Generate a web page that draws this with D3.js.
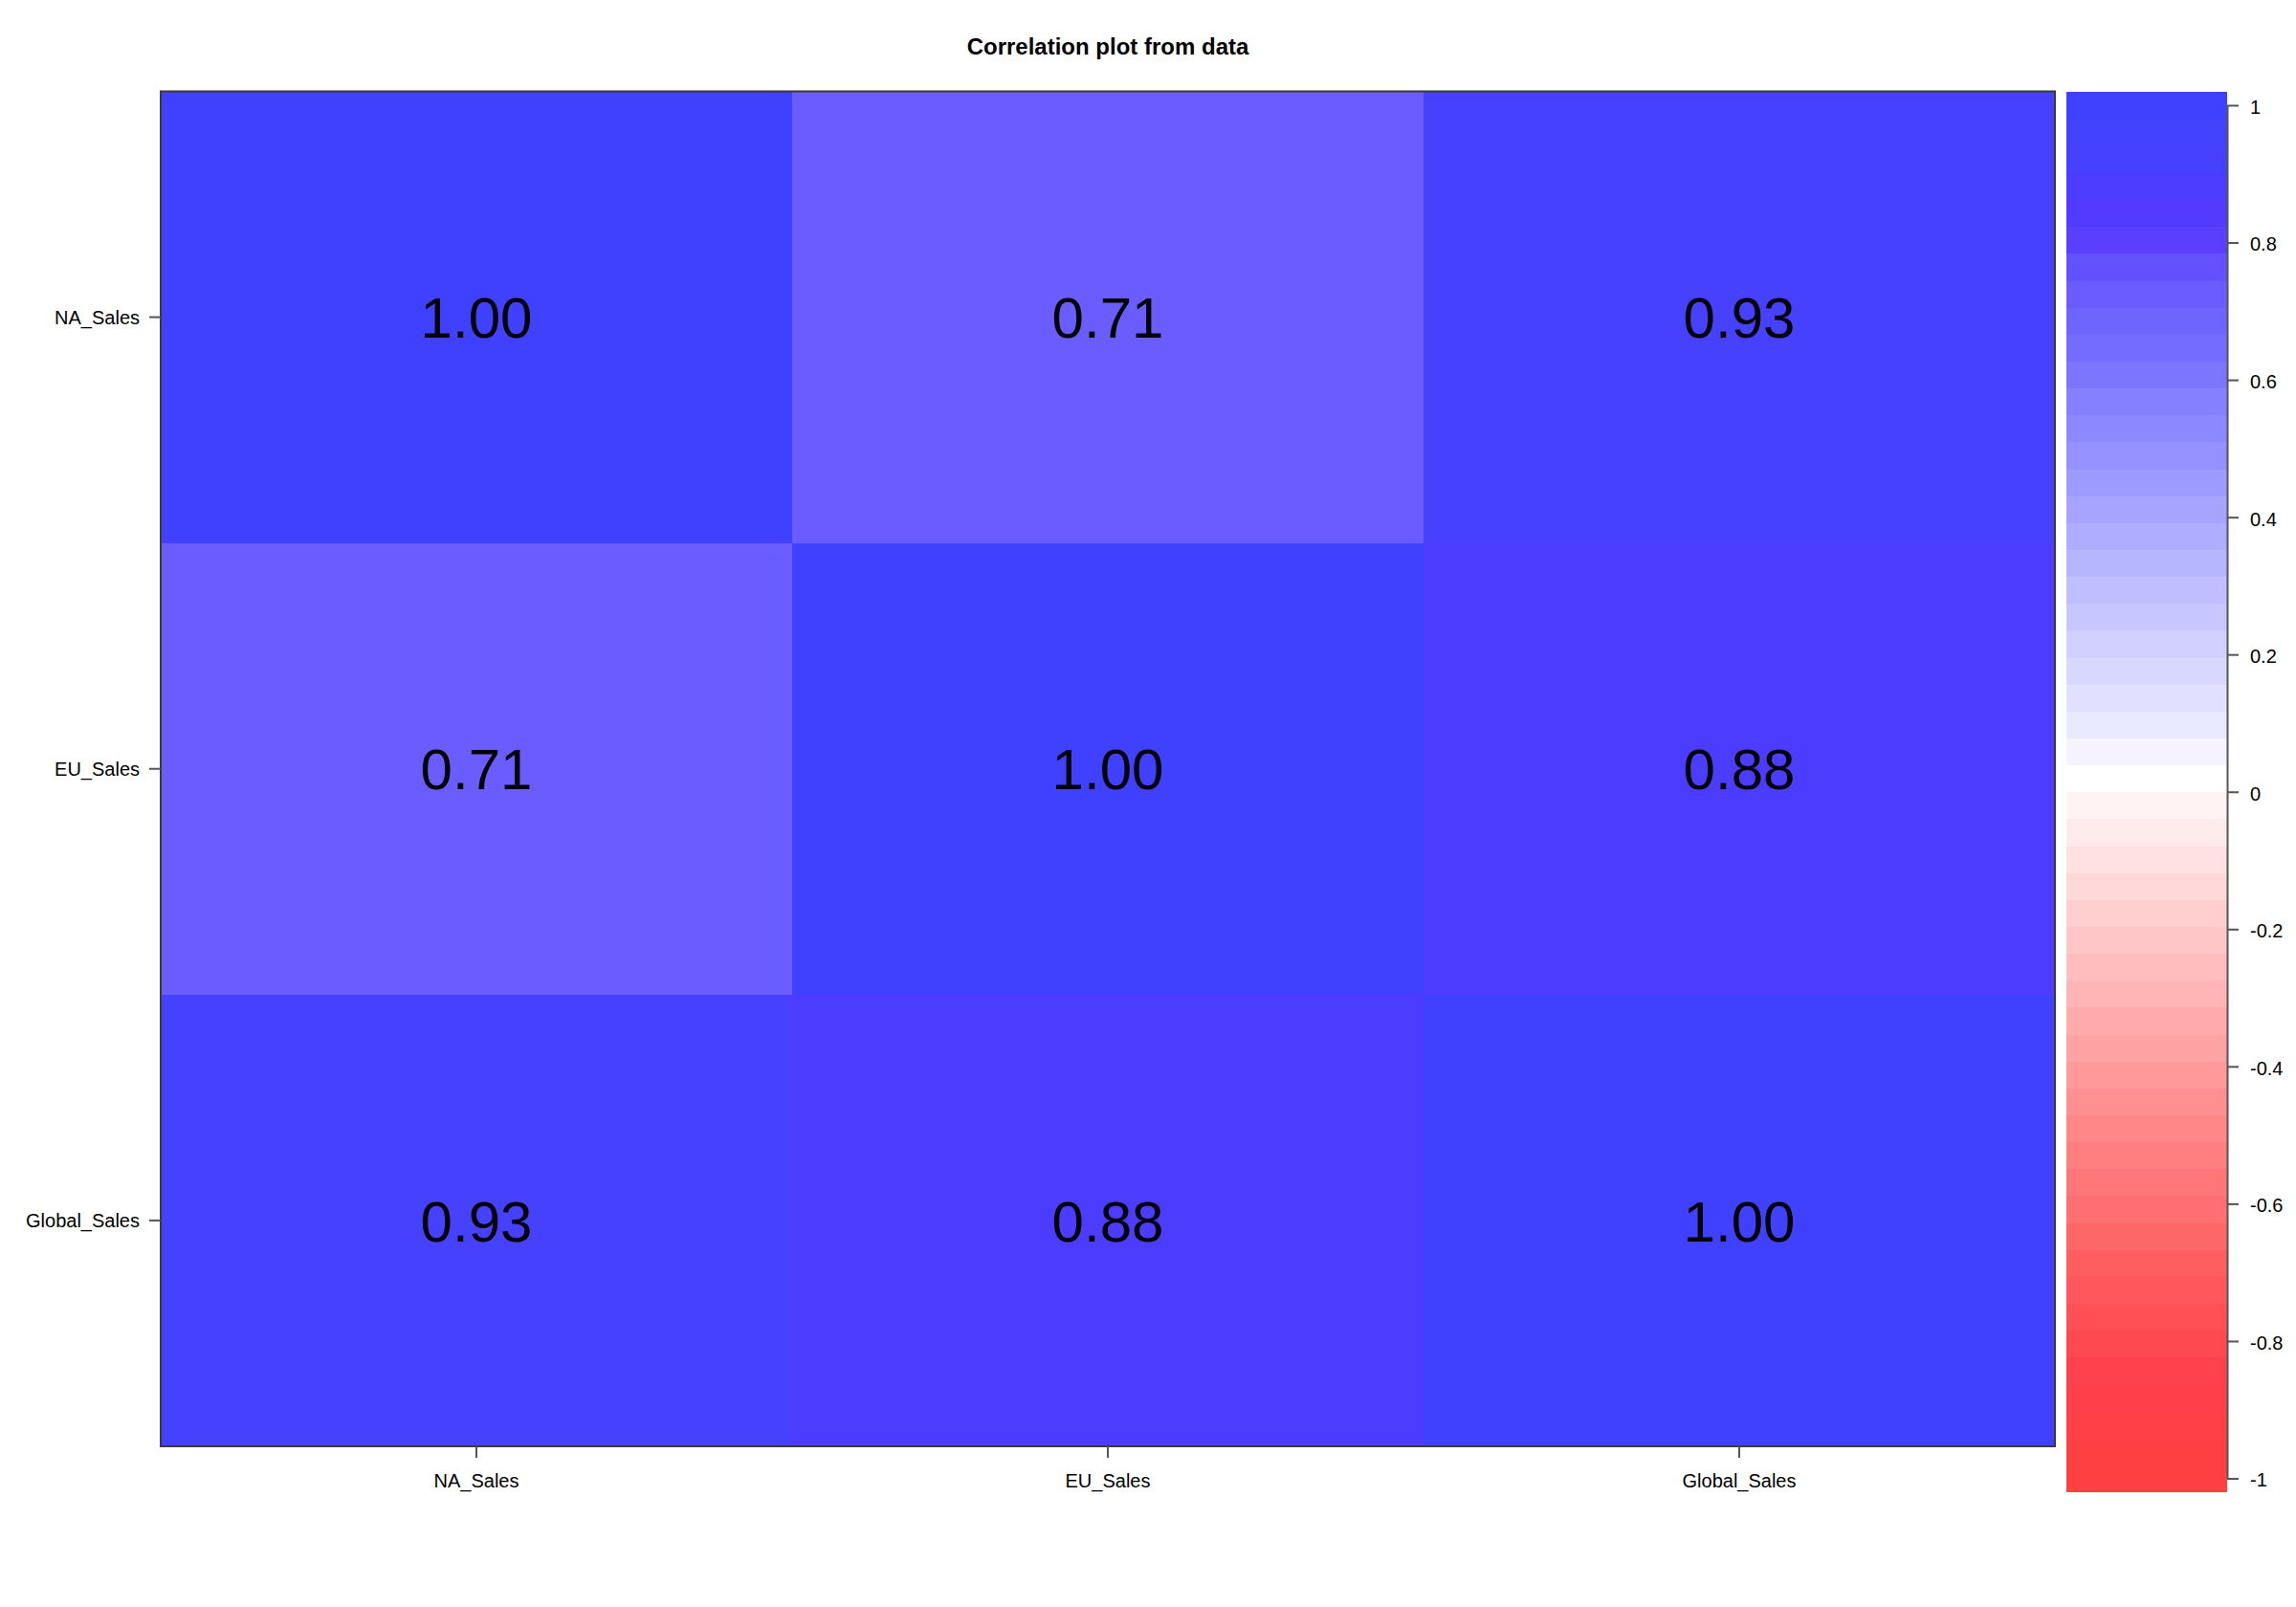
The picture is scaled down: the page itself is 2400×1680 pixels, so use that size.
<!DOCTYPE html>
<html>
<head>
<meta charset="utf-8">
<script src="https://cdn.jsdelivr.net/npm/d3@7"></script>
<style>
  html, body { margin: 0; padding: 0; background: #ffffff; }
  svg text { font-family: "Liberation Sans", Arial, Helvetica, sans-serif; }
</style>
</head>
<body>
<svg id="chart" width="2400" height="1680"></svg>
<script>
// ---- data ----
const title = "Correlation plot from data";
const variables = ["NA_Sales", "EU_Sales", "Global_Sales"];
const rowNA = [1.00, 0.71, 0.93];
const rowEU = [0.71, 1.00, 0.88];
const rowGlobal = [0.93, 0.88, 1.00];
const keyTicks = [-1, -0.8, -0.6, -0.4, -0.2, 0, 0.2, 0.4, 0.6, 0.8, 1];
const keyRange = [-1.0195, 1.0195];
// colour-key bands, from top (high) to bottom (low)
const keyColorsTopDown = [
  "#4040FF","#4242FF","#4541FF","#4C3CFF","#523BFF","#5A3FFF","#6350FF","#6A5CFF",
  "#6E64FF","#746CFF","#7C76FF","#8480FF","#8C88FF","#9592FF","#9D9BFF","#A6A4FF",
  "#AEADFF","#B6B5FF","#BFBEFF","#C7C6FF","#D0CFFF","#D8D8FF","#E1E1FF","#E9E9FF",
  "#F4F3FF","#FFFFFF","#FFF3F4","#FFEAEB","#FFE1E2","#FFD8D9","#FFCFD0","#FFC6C7",
  "#FFBDBE","#FFB4B5","#FFABAC","#FFA2A3","#FF999A","#FF9091","#FF8788","#FF7F80",
  "#FF7678","#FF6E70","#FF6668","#FF5E61","#FF575B","#FF5055","#FF4950","#FF414E",
  "#FF404A","#FF4046","#FF4043","#FF4040"
];

const rows = [rowNA, rowEU, rowGlobal];
const cells = [];
rows.forEach((r, i) => r.forEach((v, j) => cells.push({row: variables[i], col: variables[j], value: v})));

const svg = d3.select("#chart");
const fontColor = "#000";
const frameColor = "#3a3a3a";

// ---- plot region ----
const plot = {left: 168, top: 95.5, right: 2148, bottom: 1512};
const x = d3.scaleBand().domain(variables).range([plot.left, plot.right]).padding(0);
const y = d3.scaleBand().domain(variables).range([plot.top, plot.bottom]).padding(0);

const keyColorsBottomUp = keyColorsTopDown.slice().reverse();
const nBands = keyColorsBottomUp.length;
const bandEdges = d3.range(nBands + 1).map(k => keyRange[0] + (keyRange[1] - keyRange[0]) * k / nBands);
const color = d3.scaleThreshold().domain(bandEdges.slice(1, -1)).range(keyColorsBottomUp);

svg.append("g").selectAll("rect").data(cells).join("rect")
  .attr("x", d => x(d.col)).attr("y", d => y(d.row))
  .attr("width", x.bandwidth()).attr("height", y.bandwidth())
  .attr("fill", d => color(d.value))
  .attr("shape-rendering", "crispEdges");

svg.append("g").selectAll("text").data(cells).join("text")
  .attr("x", d => x(d.col) + x.bandwidth() / 2)
  .attr("y", d => y(d.row) + y.bandwidth() / 2)
  .attr("dy", "0.36em")
  .attr("text-anchor", "middle")
  .attr("font-size", 60)
  .attr("fill", fontColor)
  .text(d => d3.format(".2f")(d.value));

svg.append("rect")
  .attr("x", plot.left).attr("y", plot.top)
  .attr("width", plot.right - plot.left).attr("height", plot.bottom - plot.top)
  .attr("fill", "none").attr("stroke", frameColor).attr("stroke-width", 2);

// axes
const xAxis = svg.append("g").attr("transform", `translate(0,${plot.bottom})`)
  .call(d3.axisBottom(x).tickSize(12).tickSizeOuter(0).tickPadding(17));
const yAxis = svg.append("g").attr("transform", `translate(${plot.left},0)`)
  .call(d3.axisLeft(y).tickSize(12).tickSizeOuter(0).tickPadding(10));
[xAxis, yAxis].forEach(g => {
  g.select(".domain").remove();
  g.selectAll(".tick line").attr("stroke", "#555").attr("stroke-width", 2);
  g.selectAll(".tick text").attr("font-size", 20).attr("fill", fontColor)
    .style("font-family", '"Liberation Sans", Arial, sans-serif');
});
yAxis.selectAll(".tick text").attr("dy", "0.36em");

// ---- colour key ----
const key = {left: 2160, right: 2328};
const ky = d3.scaleLinear().domain(keyRange).range([1559.5, 96]);
svg.append("g").selectAll("rect").data(keyColorsBottomUp).join("rect")
  .attr("x", key.left)
  .attr("y", (c, k) => ky(bandEdges[k + 1]))
  .attr("width", key.right - key.left)
  .attr("height", (c, k) => ky(bandEdges[k]) - ky(bandEdges[k + 1]) + 0.5)
  .attr("fill", c => c)
  .attr("shape-rendering", "crispEdges");

const kyAxis = d3.scaleLinear().domain([-1, 1]).range([ky(-1), ky(1)]);
const keyAxis = svg.append("g").attr("transform", `translate(${key.right},0)`)
  .call(d3.axisRight(kyAxis).tickValues(keyTicks).tickFormat(d3.format("~g"))
    .tickSize(12).tickSizeOuter(0).tickPadding(12));
keyAxis.select(".domain").attr("stroke", "#555").attr("stroke-width", 2);
keyAxis.selectAll(".tick line").attr("stroke", "#555").attr("stroke-width", 2);
keyAxis.selectAll(".tick text").attr("font-size", 20).attr("fill", fontColor)
  .attr("dy", "0.42em")
  .style("font-family", '"Liberation Sans", Arial, sans-serif')
  .text(d => d < 0 ? "-" + Math.abs(d) : String(d));

// ---- title ----
svg.append("text")
  .attr("x", (plot.left + plot.right) / 2).attr("y", 57)
  .attr("text-anchor", "middle")
  .attr("font-size", 24).attr("font-weight", "bold").attr("fill", fontColor)
  .text(title);
</script>
</body>
</html>
